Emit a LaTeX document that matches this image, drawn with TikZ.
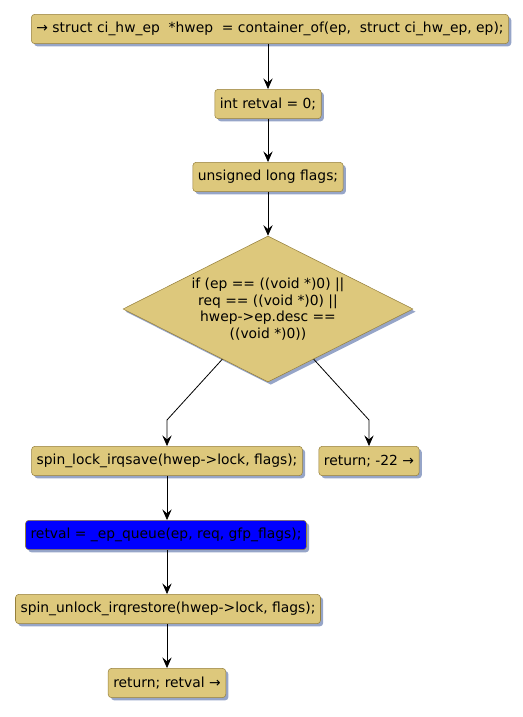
\documentclass[tikz,border=0pt]{standalone}
\usepackage{fontspec}
\setmainfont{DejaVu Sans}
\usepackage{xcolor}
\usepackage{tikz}
\usetikzlibrary{arrows.meta,shapes,shapes.geometric,shadows}

\definecolor{stepfill}{RGB}{221,200,124}
\definecolor{stepdraw}{RGB}{150,128,60}
\definecolor{shadowblue}{RGB}{150,165,200}

\begin{document}
\begin{tikzpicture}[x=0.75pt,y=-0.75pt]
            \tikzset{stmt/.style = {draw=stepdraw, fill=stepfill, rounded corners=2.5pt, minimum height=22pt, inner xsep=3.8pt, font=\fontsize{10.4}{12}\selectfont, drop shadow={shadow xshift=2pt, shadow yshift=-2pt, fill=shadowblue, opacity=1}}}
            \tikzset{cond/.style = {diamond, draw=stepdraw, fill=stepfill, aspect=1.99, minimum width=217.5pt, minimum height=109.5pt, inner sep=0pt, align=center, font=\fontsize{10.4}{12.4}\selectfont, drop shadow={shadow xshift=2pt, shadow yshift=-2pt, fill=shadowblue, opacity=1}}}
            \tikzset{edge/.style = {-{Stealth[length=8pt,width=7pt,inset=3pt]}, semithick}}
            \useasboundingbox (0,0) rectangle (522,717);

            % nodes
            \node[stmt] (hwep) at (270,29) {→ struct ci\_hw\_ep\ \ *hwep\ \ = container\_of(ep,\ \ struct ci\_hw\_ep, ep);};
            \node[stmt] (retval) at (268,104) {int retval = 0;};
            \node[stmt] (flags) at (268,177) {unsigned long flags;};
            \node[cond] (test) at (268,309) {if (ep == ((void *)0) ||\\ req == ((void *)0) ||\\ hwep->ep.desc ==\\ ((void *)0))};
            \node[stmt] (lock) at (167,461) {spin\_lock\_irqsave(hwep->lock, flags);};
            \node[stmt] (err) at (369,461) {return; -22 →};
            \node[stmt, fill=blue] (queue) at (166,535) {retval = \_ep\_queue(ep, req, gfp\_flags);};
            \node[stmt] (unlock) at (168,609) {spin\_unlock\_irqrestore(hwep->lock, flags);};
            \node[stmt] (ret) at (167,683) {return; retval →};
            \coordinate (lbend) at (167,420);
            \coordinate (rbend) at (369,420);

            % edges
            \draw[edge] (hwep.south -| retval) to (retval);
            \draw[edge] (retval) to (flags);
            \draw[edge] (flags) to (test);
            \draw[edge] (test) -- (lbend) -- (lbend |- lock.north);
            \draw[edge] (test) -- (rbend) -- (err);
            \foreach \a/\b in {lock/queue,queue/unlock,unlock/ret}
              {\draw[edge] (\a.south -| lbend) to (\b.north -| lbend);}

          \end{tikzpicture}
\end{document}
